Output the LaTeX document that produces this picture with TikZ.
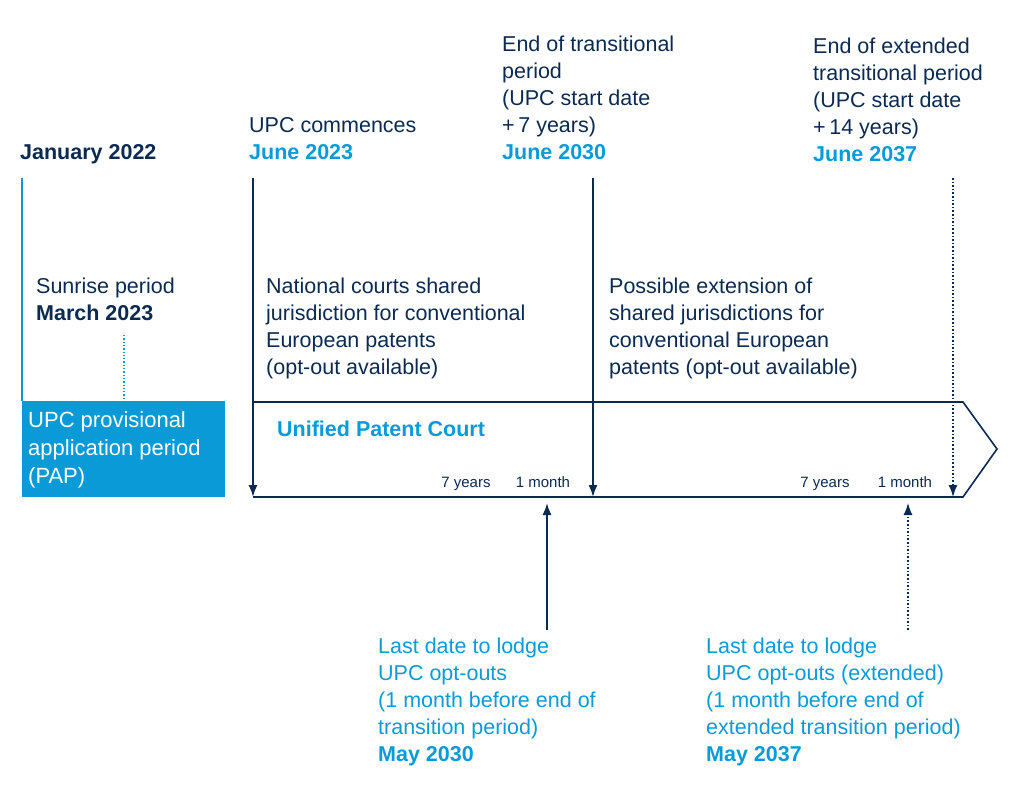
\documentclass[tikz,border=0pt]{standalone}
\usepackage{fontspec}
\setmainfont{Liberation Sans}
\usetikzlibrary{arrows.meta}
\definecolor{navy}{HTML}{0B2A52}
\definecolor{lblue}{HTML}{0A9AD8}
\tikzset{
  txt/.style={anchor=north west,align=left,inner sep=0pt,text=navy,font=\fontsize{21.5}{27}\selectfont},
  btxt/.style={txt,text=lblue},
  small/.style={anchor=base,inner sep=0pt,text=navy,font=\fontsize{15}{16}\selectfont},
  ln/.style={navy,line width=1.6pt},
  arr/.style={ln,-{Latex[length=12pt,width=9pt]}},
}
\begin{document}
\begin{tikzpicture}[x=1pt,y=-1pt]
\useasboundingbox (0,0) rectangle (1013,789);
% headers
\node[txt,font=\fontsize{21.5}{27}\selectfont\bfseries] (jan) at (20,144) {January 2022};
\node[txt] (upc) at (249,117) {UPC commences\\\textcolor{lblue}{\textbf{June 2023}}};
\node[txt] (end) at (502,36) {End of transitional\\period\\(UPC start date\\+\,7 years)\\\textcolor{lblue}{\textbf{June 2030}}};
\node[txt] (ext) at (813,38) {End of extended\\transitional period\\(UPC start date\\+\,14 years)\\\textcolor{lblue}{\textbf{June 2037}}};
\node[txt] (sun) at (36,278) {Sunrise period\\\textbf{March 2023}};
\node[txt] (nat) at (266,278) {National courts shared\\jurisdiction for conventional\\European patents\\(opt-out available)};
\node[txt] (pos) at (609,278) {Possible extension of\\shared jurisdictions for\\conventional European\\patents (opt-out available)};
% PAP box
\node[fill=lblue,minimum width=203pt,minimum height=96pt,anchor=north west,inner sep=0pt] (pap) at (22,401) {};
\node[txt,text=white,font=\fontsize{22}{28}\selectfont] (papt) at (28,411) {UPC provisional\\application period\\(PAP)};
\draw[lblue,line width=1.4pt] (22,178) -- (pap.north west);
\coordinate (sd) at (124,335);
\draw[lblue,line width=1.3pt,dotted] (sd) -- (124,398);
% court arrow shape
\coordinate (a1) at (253,402); \coordinate (a2) at (963,402);
\coordinate (a3) at (997,449); \coordinate (a4) at (963,497);
\coordinate (a5) at (253,497);
\draw[ln] (a1) -- (a2) -- (a3) -- (a4) -- (a5);
\node[txt,text=lblue,font=\fontsize{21.5}{27}\selectfont\bfseries] (upcname) at (277,421) {Unified Patent Court};
% verticals
\coordinate (v1) at (253,178); \coordinate (v2) at (593,178); \coordinate (v3) at (953,178);
\draw[arr] (v1) -- (a5);
\draw[arr] (v2) -- (593,497);
\draw[arr,dotted,line width=1.3pt] (v3) -- (953,497);
% small labels
\node[small] (y1) at (466,487) {7 years};
\node[small] (m1) at (543,487) {1 month};
\node[small] (y2) at (825,487) {7 years};
\node[small] (m2) at (905,487) {1 month};
% up arrows
\coordinate (u1) at (547,630); \coordinate (u2) at (908,630);
\draw[arr] (u1) -- (547,503);
\draw[arr,dotted,line width=1.3pt] (u2) -- (908,503);
\node[btxt] (l1) at (378,638) {Last date to lodge\\UPC opt-outs\\(1 month before end of\\transition period)\\\textbf{May 2030}};
\node[btxt] (l2) at (706,638) {Last date to lodge\\UPC opt-outs (extended)\\(1 month before end of\\extended transition period)\\\textbf{May 2037}};
\end{tikzpicture}
\end{document}
